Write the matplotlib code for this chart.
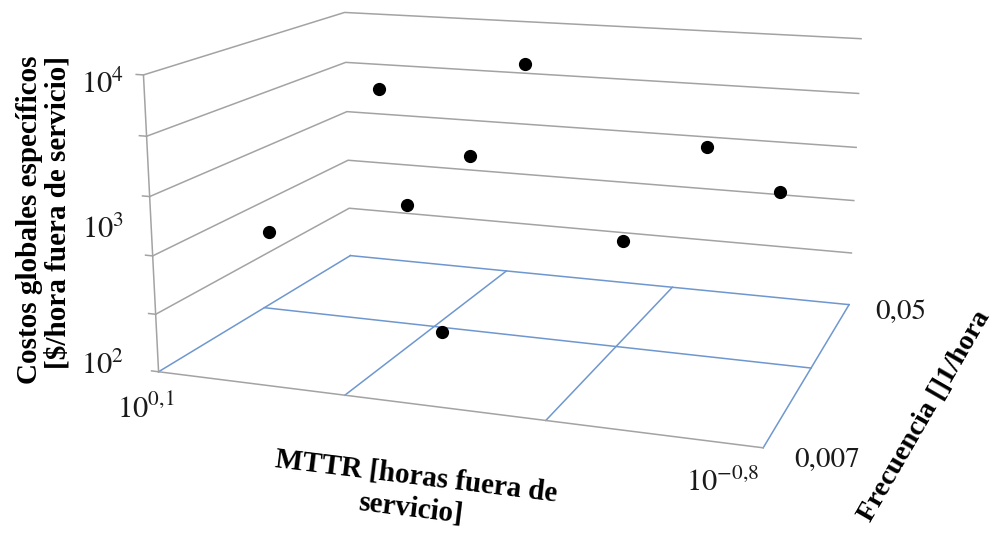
import numpy as np
import matplotlib
matplotlib.use("Agg")
import matplotlib.pyplot as plt

plt.rcParams['mathtext.fontset'] = 'stix'

# ---------------- data ----------------
# MTTR [hours], failure frequency [1/hour], specific global cost [$/hour]
mttr_h = [1.22, 1.09, 0.972, 0.736, 0.445, 0.448, 0.310, 0.232, 0.167]
freq_h = [0.0187, 0.05, 0.05, 0.05, 0.0187, 0.007, 0.0187, 0.0187, 0.0114]
cost_usd = [385, 2520, 295, 817, 8790, 315, 578, 2870, 2390]

mttr_grid_exp = [0.1, -0.2, -0.5, -0.8]          # log10 MTTR gridlines
freq_grid = [0.007, 0.0187, 0.05]                 # frequency gridlines
cost_grid_exp = [2.0, 2.4, 2.8, 3.2, 3.6, 4.0]    # log10 cost gridlines
cost_label_exp = [2, 3, 4]
mttr_tick_labels = [r'$10^{0{,}1}$', r'$10^{-0{,}8}$']
freq_tick_labels = ['0,05', '0,007']

# ---------------- figure ----------------
W, H = 995, 533
fig = plt.figure(figsize=(W / 100, H / 100), dpi=100)
fig.patch.set_facecolor('white')
ax = fig.add_axes([130.23 / W, -59.09 / H, 766.10 / W, 766.10 / H], projection='3d')
ax.set_axis_off()
ax.view_init(elev=13.847, azim=-70.585, roll=0)
ax.set_proj_type('persp', focal_length=0.4368)
ax.set_box_aspect((2.0398, 1.5181, 1.0))

xg = [-e for e in mttr_grid_exp]           # plotted x = -log10(MTTR)
yg = list(np.log10(freq_grid))
zg = cost_grid_exp
x0, x1 = xg[0], xg[-1]
y0, y1 = yg[0], yg[-1]
z0, z1 = zg[0], zg[-1]
ax.set_xlim(x0, x1)
ax.set_ylim(y0, y1)
ax.set_zlim(z0, z1)

GRAY = '#a3a3a3'
BLUE = '#6f97cf'

# floor grid
for xv in xg:
    ax.plot([xv, xv], [y0, y1], [z0, z0], color=BLUE, lw=1.1)
for yv in yg[1:]:
    ax.plot([x0, x1], [yv, yv], [z0, z0], color=BLUE, lw=1.1)
ax.plot([x0, x1], [y0, y0], [z0, z0], color=GRAY, lw=1.1)

# wall gridlines (left wall and back wall)
for zv in zg[1:]:
    ax.plot([x0, x0, x1], [y0, y1, y1], [zv, zv, zv], color=GRAY, lw=1.1)

# vertical axis with tick stubs
ax.plot([x0, x0], [y0, y0], [z0, z1], color=GRAY, lw=1.1)
stub = 0.013 * (x1 - x0)
for zv in zg:
    ax.plot([x0 - stub, x0], [y0, y0], [zv, zv], color=GRAY, lw=1.1)

# data points
ax.plot(-np.log10(mttr_h), np.log10(freq_h), np.log10(cost_usd), 'o',
        color='black', ms=8.5, linestyle='none')

# ---------------- text ----------------
TXT = '#1a1a1a'


def ftext(px, py, s, **kw):
    return fig.text(px / W, 1 - py / H, s, **kw)


for e, py in zip(cost_label_exp, [365, 229, 83]):
    ftext(124, py, rf'$10^{{{e}}}$', fontsize=22, ha='right', va='center', color=TXT)

ftext(146, 409, mttr_tick_labels[0], fontsize=22, ha='center', va='center', color=TXT)
ftext(723, 482, mttr_tick_labels[1], fontsize=22, ha='center', va='center', color=TXT)
ftext(901, 313, freq_tick_labels[0], fontsize=21, family='STIXGeneral', ha='center', va='center', color=TXT)
ftext(827, 460, freq_tick_labels[1], fontsize=21, family='STIXGeneral', ha='center', va='center', color=TXT)

ftext(44, 220, 'Costos globales específicos\n[$/hora fuera de servicio]', fontsize=21,
      family='Liberation Serif', weight='bold', rotation=90, ha='center', va='center',
      multialignment='right', linespacing=1.05, color='black')
ftext(416, 476, 'MTTR [horas fuera de', fontsize=21, family='Liberation Serif',
      weight='bold', rotation=-7, rotation_mode='anchor', ha='center', va='center', color='black')
ftext(411, 508, 'servicio]', fontsize=21, family='Liberation Serif',
      weight='bold', rotation=-7, rotation_mode='anchor', ha='center', va='center', color='black')
ftext(925, 416, 'Frecuencia []1/hora', fontsize=20.5, family='Liberation Serif', weight='bold',
      rotation=60, rotation_mode='anchor', ha='center', va='center', color='black')

fig.savefig('out.png', dpi=100, facecolor='white')
